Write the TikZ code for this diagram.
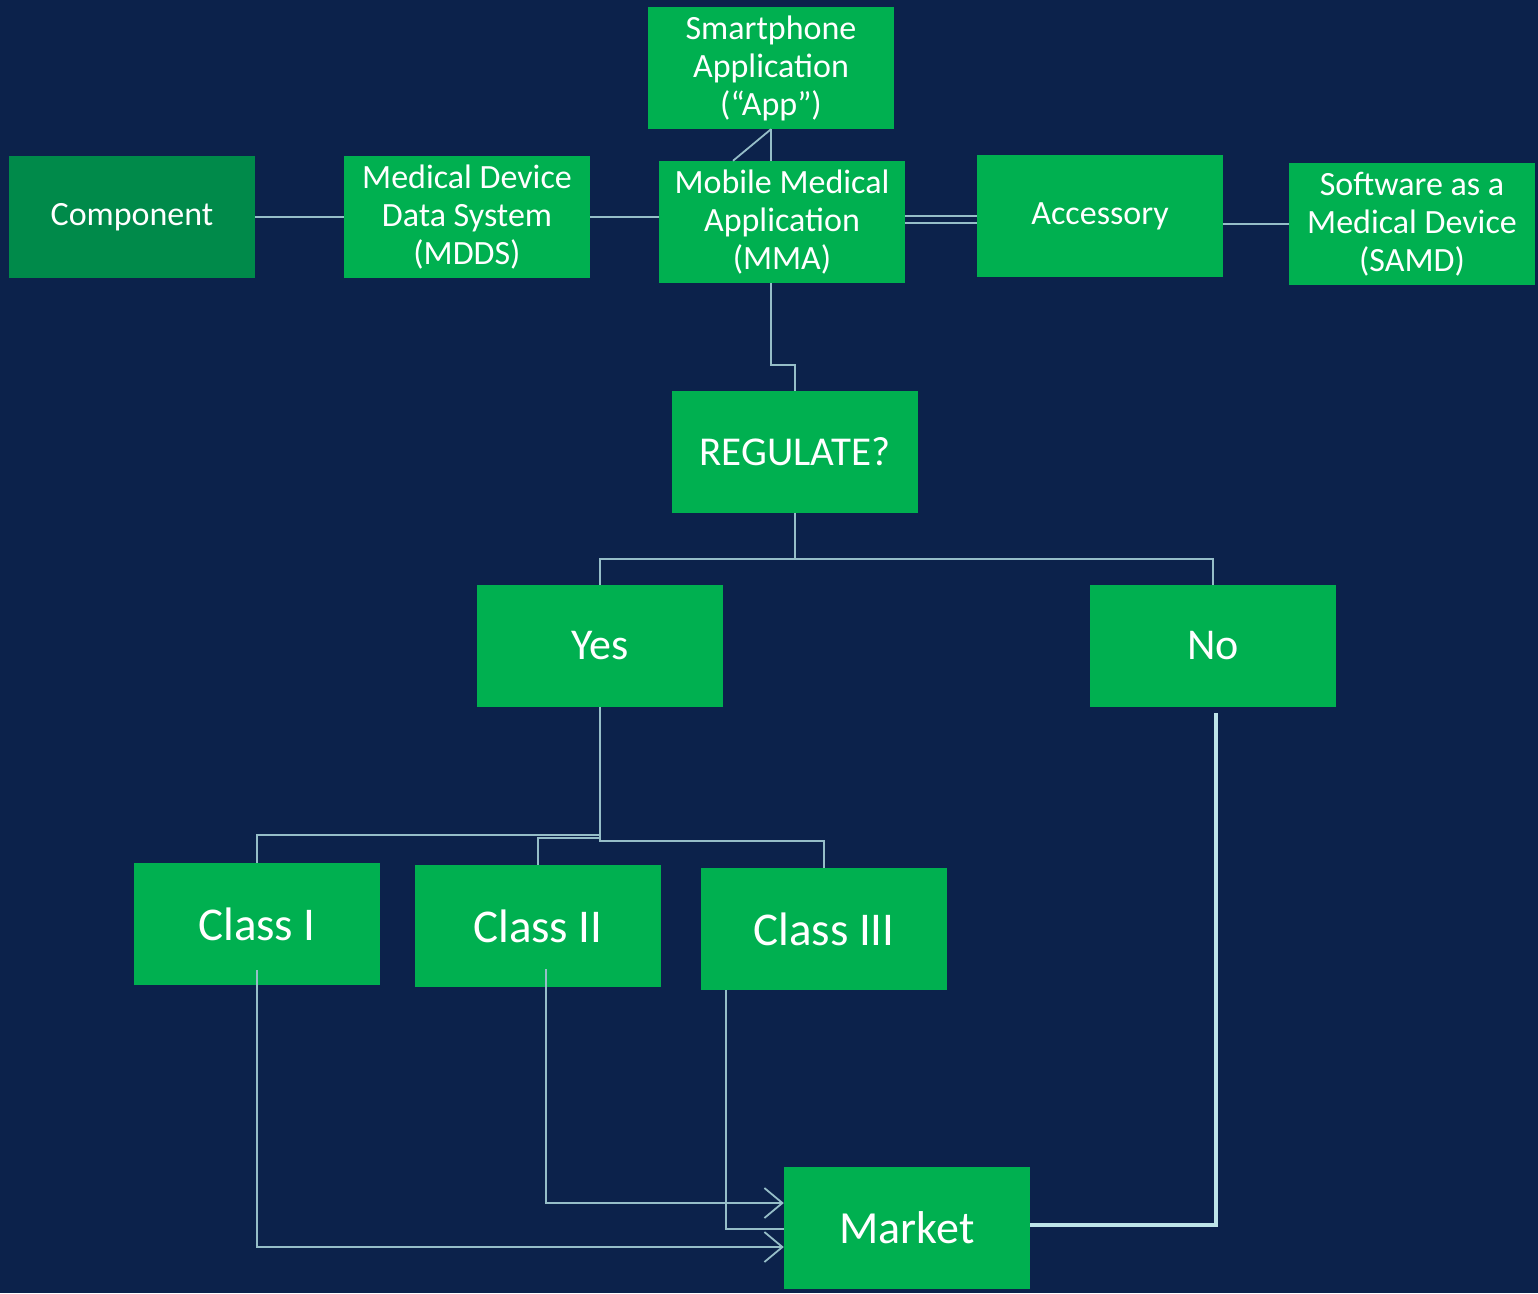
\documentclass[tikz,border=0pt]{standalone}
\usepackage{fontspec}
\setmainfont{Carlito}
\usetikzlibrary{arrows.meta}
\definecolor{bg}{RGB}{12,34,75}
\definecolor{gr}{RGB}{0,176,80}
\definecolor{dgr}{RGB}{0,138,74}
\definecolor{ln}{RGB}{150,190,200}
\definecolor{lnb}{RGB}{190,228,232}
\begin{document}
\begin{tikzpicture}[x=1pt,y=-1pt,
  box/.style={fill=gr, minimum width=246pt, minimum height=122pt, inner sep=0pt, text=white, align=center, font=\fontsize{34}{38}\selectfont},
  conn/.style={draw=ln, line width=1.8pt},
  arr/.style={conn, -{Straight Barb[length=18pt,width=30pt,line width=1.8pt]}},
  thick conn/.style={draw=lnb, line width=4.5pt}]
\fill[bg] (0,0) rectangle (1538,1293);
\useasboundingbox (0,0) rectangle (1538,1293);
% nodes
\node[box] (app) at (771,68) {Smartphone\\Application\\(“App”)};
\node[box, fill=dgr] (comp) at (132,217) {Component};
\node[box] (mdds) at (467,217) {Medical Device\\Data System\\(MDDS)};
\node[box] (mma) at (782,222) {Mobile Medical\\Application\\(MMA)};
\node[box] (acc) at (1100,216) {Accessory};
\node[box] (samd) at (1412,224) {Software as a\\Medical Device\\(SAMD)};
\node[box, font=\fontsize{41}{46}\selectfont] (reg) at (795,452) {REGULATE?};
\node[box, font=\fontsize{44}{50}\selectfont] (yes) at (600,646) {Yes};
\node[box, font=\fontsize{44}{50}\selectfont] (no) at (1213,646) {No};
\node[box, font=\fontsize{47}{52}\selectfont] (c1) at (257,924) {Class I};
\node[box, font=\fontsize{47}{52}\selectfont] (c2) at (538,926) {Class II};
\node[box, font=\fontsize{47}{52}\selectfont] (c3) at (824,929) {Class III};
\node[box, font=\fontsize{46}{52}\selectfont] (mkt) at (907,1228) {Market};
% connectors (top row)
\draw[conn] (app.south) -- (app.south |- mma.north);
\draw[conn] (app.south) -- ([xshift=-49pt]mma.north);
\draw[conn] (comp.east) -- (mdds.west);
\draw[conn] (mdds.east) -- (mdds.east -| mma.west);
\draw[conn] (acc.west) -- (acc.west -| mma.east);
\draw[conn] ([yshift=-7pt]acc.west) -- ([yshift=-7pt]acc.west -| mma.east);
\draw[conn] (samd.west) -- (samd.west -| acc.east);
% MMA to REGULATE
\draw[conn] ([xshift=-11pt]mma.south) -- ++(0,82) -| (reg.north);
% REGULATE to Yes/No
\draw[conn] (reg.south) -- ++(0,46) coordinate (j) -| (yes.north);
\draw[conn] (j) -| (no.north);
% Yes to classes
\draw[conn] (yes.south) -- ++(0,128) -| (c1.north);
\draw[conn] ([yshift=-131pt]yes.south) -| (c2.north);
\draw[conn] (yes.south) -- ++(0,134) -| (c3.north);
% classes to market
\draw[arr] ([yshift=15pt]c1.south) |- ([yshift=-19pt]mkt.west);
\draw[arr] ([xshift=8pt,yshift=18pt]c2.south) |- ([yshift=25pt]mkt.west);
\draw[conn] ([xshift=-98pt]c3.south) |- ([yshift=-1pt]mkt.west);
\draw[thick conn] ([xshift=3pt,yshift=-6pt]no.south) |- ([yshift=3pt]mkt.east);
\end{tikzpicture}
\end{document}
